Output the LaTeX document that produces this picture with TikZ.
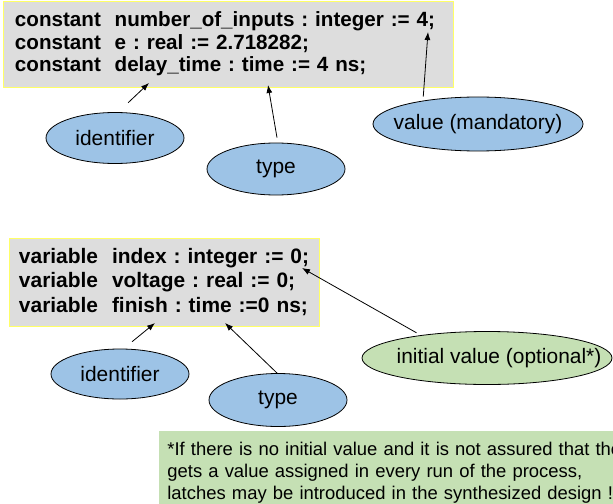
\documentclass[tikz,border=0pt]{standalone}
\usepackage{fontspec}
\setmainfont{Liberation Sans}
\usetikzlibrary{shapes.geometric,positioning,arrows.meta}

\definecolor{codegray}{RGB}{221,221,221}
\definecolor{codeyellow}{RGB}{255,255,102}
\definecolor{bubbleblue}{RGB}{157,195,230}
\definecolor{bubblegreen}{RGB}{197,224,180}

\newcommand{\nowide}[1]{\makebox[0pt]{#1}}

\begin{document}
\frenchspacing
\begin{tikzpicture}[x=1bp, y=-1bp, node distance=1.6cm, on grid, line width=0.8bp,
  >={Latex[length=8bp, width=6bp]},
  code/.style={draw=codeyellow, fill=codegray, align=left, inner ysep=0pt},
  bubble/.style={ellipse, draw=black, fill=bubbleblue, inner sep=0pt, font=\fontsize{21}{25}\selectfont},
  note/.style={fill=bubblegreen, align=left, inner xsep=8bp, inner ysep=10.6bp, font=\fontsize{18.5}{22}\selectfont}]

\path[use as bounding box, clip] (0,0) rectangle (613,504);

% constants
\node[code, font=\fontsize{20.7}{22.5}\selectfont\bfseries, minimum width=450bp, minimum height=86bp, text width=426bp, inner xsep=12bp] (consts) at (228,44) {\mbox{constant~~number\_of\_inputs : integer := 4;}\\\mbox{constant~~e : real := 2.718282;}\\\mbox{constant~~delay\_time : time := 4 ns;}};
\node[bubble, below of = consts, node distance = 94bp, xshift = -113bp, minimum width=138bp, minimum height=51bp] (ident1) {identifier};
\node[bubble, right of = ident1, node distance = 161bp, yshift = -31bp, minimum width=138bp, minimum height=52bp] (type1) {type};
\node[bubble, right of = type1, node distance = 202bp, yshift = 45bp, minimum width=210bp, minimum height=54bp] (value) {\nowide{value (mandatory)}};

\coordinate (ptIdent1) at (149,83);
\coordinate (ptType1) at (268,85);
\coordinate (ptValue) at (428,32);

% variables
\node[code, font=\fontsize{21}{25}\selectfont\bfseries, below of = consts, node distance = 238bp, xshift = -64bp, minimum width=310bp, minimum height=88bp, text width=290bp, inner xsep=10bp] (vars) {\mbox{variable~~index : integer := 0;}\\\mbox{variable~~voltage : real := 0;}\\\mbox{variable~~finish : time :=0 ns;}};
\node[bubble, below of = vars, node distance = 92bp, xshift = -44bp, minimum width=138bp, minimum height=50bp] (ident2) {identifier};
\node[bubble, right of = ident2, node distance = 158bp, yshift = -26bp, minimum width=138bp, minimum height=53bp] (type2) {type};
\node[bubble, fill=bubblegreen, right of = type2, node distance = 209bp, yshift = 42bp, minimum width=250bp, minimum height=53bp] (init) {\nowide{\hspace*{24bp}initial value (optional*)}};

\coordinate (ptIdent2) at (155,323);
\coordinate (ptType2) at (225,323);
\coordinate (ptInit) at (302,268);

\node[note, anchor=north west, text width=520bp] (remark) at (159,431) {*If there is no initial value and it is not assured that the\\gets a value assigned in every run of the process,\\latches may be introduced in the synthesized design !};

\path[->]
(ident1.83) edge [shorten <=13.7bp] (ptIdent1)
(type1.86) edge [shorten <=5bp] (ptType1)
(value.157) edge [shorten <=4bp] (ptValue)
(ident2.82) edge [shorten <=11bp] (ptIdent2)
(type2.92) edge (ptType2)
(init.161) edge [shorten <=4.8bp] (ptInit)
;
\end{tikzpicture}
\end{document}
